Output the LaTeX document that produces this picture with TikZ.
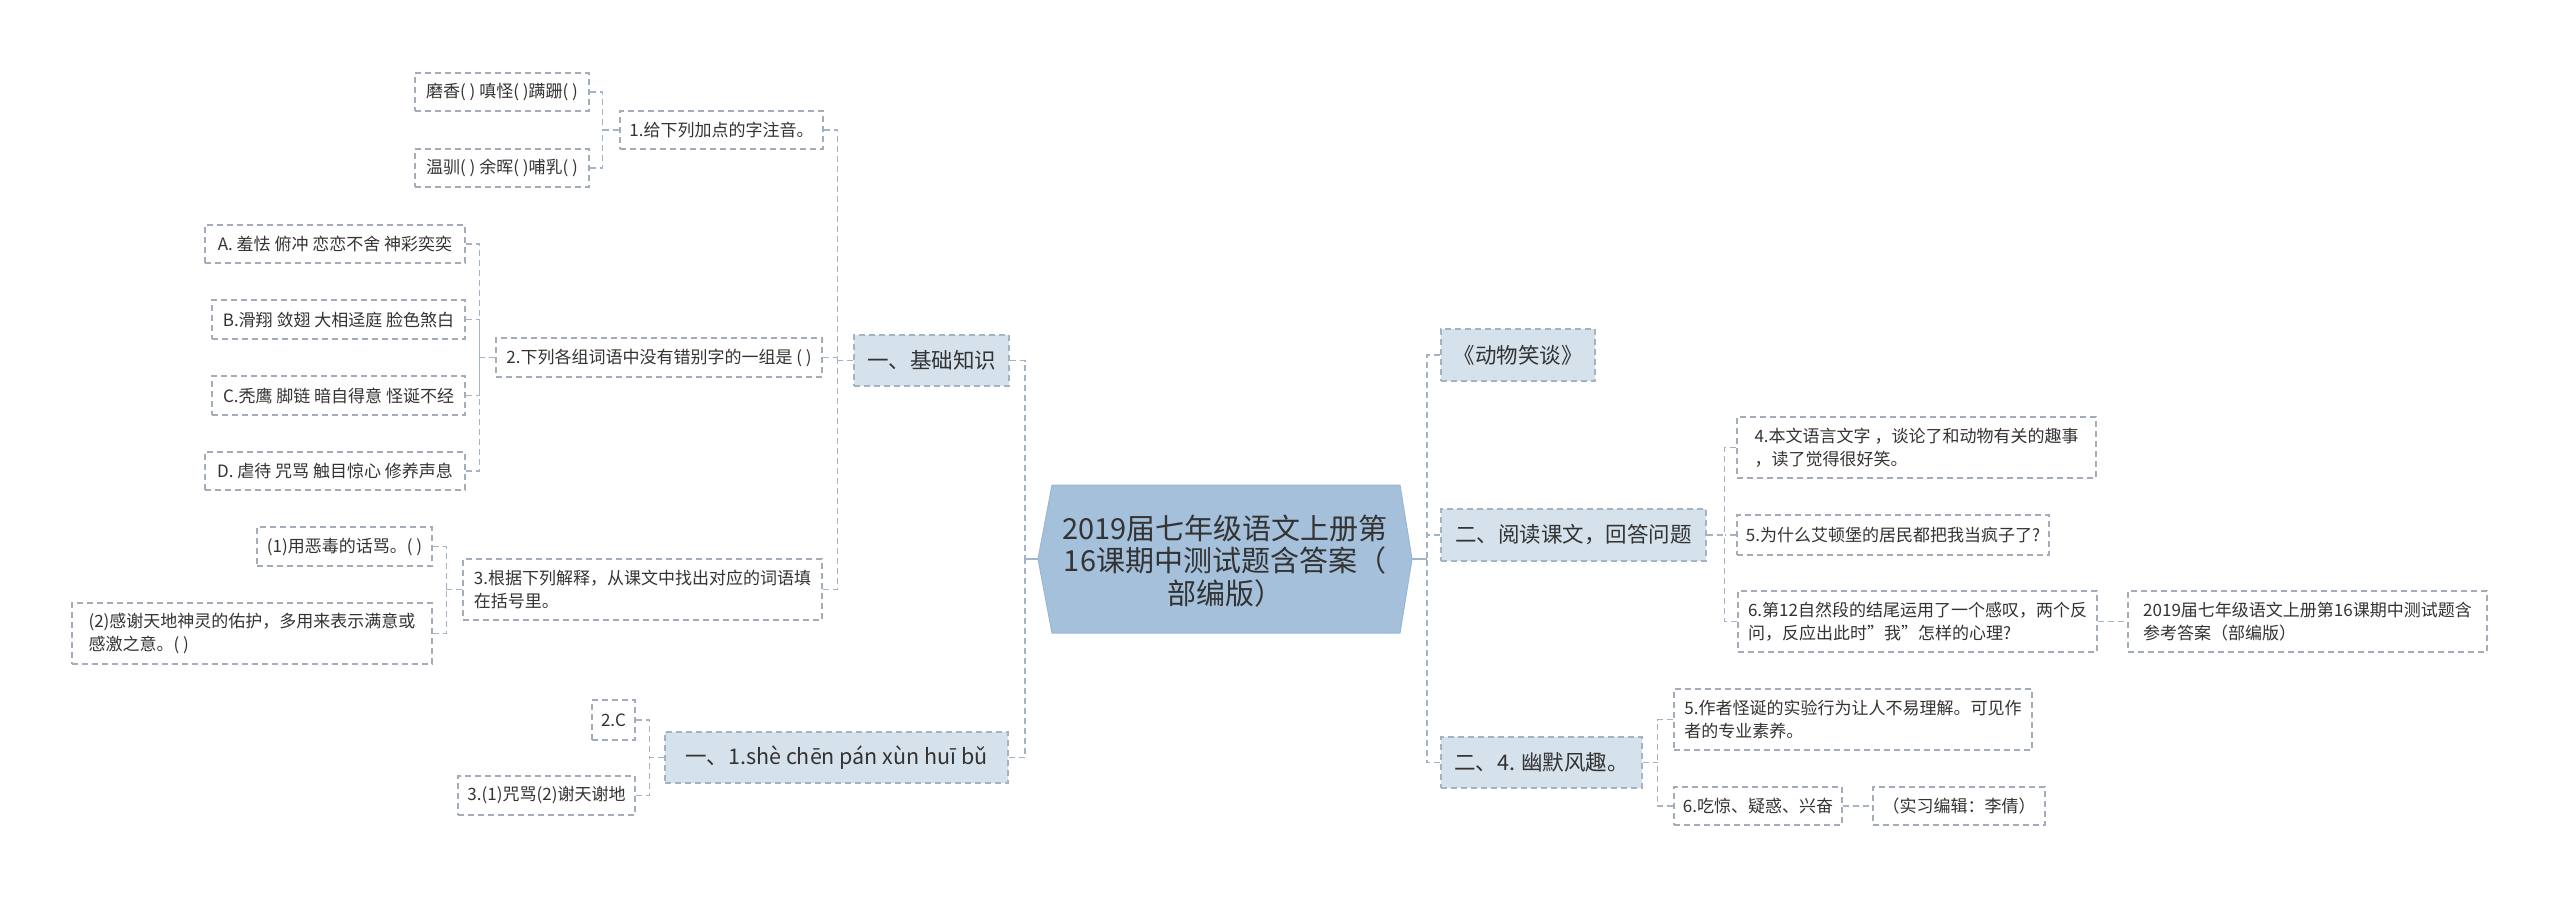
\documentclass[tikz,border=0pt]{standalone}
\usepackage{fontspec}
\setmainfont{Noto Sans CJK SC}
\definecolor{txt}{HTML}{333333}
\definecolor{leafborder}{HTML}{A2ADB9}
\definecolor{lvlborder}{HTML}{A3B3C4}
\definecolor{lvlfill}{HTML}{D5E1EB}
\definecolor{connc}{HTML}{A3B4C6}
\definecolor{hexfill}{HTML}{A4C0DA}
\definecolor{hexborder}{HTML}{9AB7D2}
\tikzset{
  leaf/.style={draw=leafborder, line width=1.2pt, dash pattern=on 6pt off 4pt, fill=white,
    inner sep=0pt, font=\fontsize{17}{23}\selectfont, text=txt, align=left},
  lvl/.style={draw=lvlborder, line width=1.3pt, dash pattern=on 6pt off 4pt, fill=lvlfill,
    inner sep=0pt, font=\fontsize{21.5}{26}\selectfont, text=txt, align=left},
  conn/.style={draw=connc, line width=1.5pt, dash pattern=on 6pt off 4pt},
  solidconn/.style={draw=connc, line width=1.5pt},
}
\begin{document}
\begin{tikzpicture}[x=1pt,y=-1pt]
\useasboundingbox (0,0) rectangle (2560,899);
\fill[white] (0,0) rectangle (2560,899);

% central hexagon
\coordinate (cL) at (1038,559);
\coordinate (cR) at (1412,559);
\fill[hexfill, draw=hexborder, line width=1pt] (cL) -- (1052,485) -- (1400,485) -- (cR) -- (1400,633) -- (1052,633) -- cycle;
\node[font=\fontsize{29}{32.5}\selectfont, text=txt, align=center] (center) at (1225,561)
  {2019届七年级语文上册第\\16课期中测试题含答案（\\部编版）};

% ---------------- left side ----------------
\node[lvl, minimum width=155pt, minimum height=51pt] (L1a) at (931.5,360.5) {一、基础知识};
\node[lvl, minimum width=343pt, minimum height=51pt] (L1b) at (836.5,757.5) {一、1.shè chēn pán xùn huī bǔ};

\node[leaf, minimum width=203pt, minimum height=38pt] (q1) at (721.5,130) {1.给下列加点的字注音。};
\node[leaf, minimum width=174pt, minimum height=38pt] (a1) at (502,92) {磨香( ) 嗔怪( )蹒跚( )};
\node[leaf, minimum width=174pt, minimum height=38pt] (a2) at (502,168) {温驯( ) 余晖( )哺乳( )};

\node[leaf, minimum width=326pt, minimum height=39pt] (q2) at (659,357.5) {2.下列各组词语中没有错别字的一组是 ( )};
\node[leaf, minimum width=260pt, minimum height=38pt] (oA) at (335,244) {A. 羞怯 俯冲 恋恋不舍 神彩奕奕};
\node[leaf, minimum width=253pt, minimum height=39pt] (oB) at (338.5,319.5) {B.滑翔 敛翅 大相迳庭 脸色煞白};
\node[leaf, minimum width=253pt, minimum height=39pt] (oC) at (338.5,395.5) {C.秃鹰 脚链 暗自得意 怪诞不经};
\node[leaf, minimum width=260pt, minimum height=38pt] (oD) at (335,471) {D. 虐待 咒骂 触目惊心 修养声息};

\node[leaf, minimum width=359pt, minimum height=61pt] (q3) at (642.5,589.5) {3.根据下列解释，从课文中找出对应的词语填\\在括号里。};
\node[leaf, minimum width=175pt, minimum height=39pt] (p1) at (344.5,546.5) {(1)用恶毒的话骂。( )};
\node[leaf, minimum width=360pt, minimum height=61pt] (p2) at (252,633.5) {(2)感谢天地神灵的佑护，多用来表示满意或\\感激之意。( )};

\node[leaf, minimum width=43pt, minimum height=40pt] (s2) at (613.5,720) {2.C};
\node[leaf, minimum width=177pt, minimum height=39pt] (s3) at (546.5,795.5) {3.(1)咒骂(2)谢天谢地};

% ---------------- right side ----------------
\node[lvl, minimum width=154pt, minimum height=52pt] (R1) at (1518,355) {《动物笑谈》};
\node[lvl, minimum width=265pt, minimum height=52pt] (R2) at (1573.5,535) {二、阅读课文，回答问题};
\node[lvl, minimum width=201pt, minimum height=51pt] (R3) at (1541.5,762.5) {二、4. 幽默风趣。};

\node[leaf, minimum width=359pt, minimum height=61pt] (r4) at (1916.5,447.5) {4.本文语言文字 ，谈论了和动物有关的趣事\\，读了觉得很好笑。};
\node[leaf, minimum width=312pt, minimum height=40pt] (r5) at (1893,535) {5.为什么艾顿堡的居民都把我当疯子了?};
\node[leaf, minimum width=359pt, minimum height=61pt] (r6) at (1917.5,621.5) {6.第12自然段的结尾运用了一个感叹，两个反\\问，反应出此时{\char34}我{\char34}怎样的心理?};
\node[leaf, minimum width=359pt, minimum height=61pt] (r7) at (2307.5,621.5) {2019届七年级语文上册第16课期中测试题含\\参考答案（部编版）};

\node[leaf, minimum width=358pt, minimum height=61pt] (r8) at (1853,719.5) {5.作者怪诞的实验行为让人不易理解。可见作\\者的专业素养。};
\node[leaf, minimum width=168pt, minimum height=38pt] (r9) at (1758,806) {6.吃惊、疑惑、兴奋};
\node[leaf, minimum width=172pt, minimum height=38pt] (r10) at (1959,806) {（实习编辑：李倩）};

% ---------------- connectors ----------------
% centre to level 1 (left)
\coordinate (tL) at (1025,559);
\draw[solidconn] (cL) -- (tL);
\draw[conn] (L1a.east) -| (tL);
\draw[conn] (L1b.east) -| (tL);
% centre to level 1 (right)
\coordinate (tR) at (1427,559);
\draw[solidconn] (cR) -- (tR);
\draw[conn] (R1.west) -| (tR);
\draw[conn] (R2.west) -| (tR);
\draw[conn] (R3.west) -| (tR);

% 一、基础知识
\coordinate (t1) at ([xshift=-16pt]L1a.west);
\draw[conn] (L1a.west) -- (t1);
\draw[conn] (q1.east) -| (t1);
\draw[conn] (q2.east) -| (t1);
\draw[conn] (q3.east) -| (t1);
% 1.
\coordinate (tq1) at ([xshift=-17pt]q1.west);
\draw[conn] (q1.west) -- (tq1);
\draw[conn] (a1.east) -| (tq1);
\draw[conn] (a2.east) -| (tq1);
% 2.
\coordinate (tq2) at ([xshift=-16pt]q2.west);
\draw[conn] (q2.west) -- (tq2);
\draw[conn] (oA.east) -| (tq2);
\draw[conn] (oB.east) -| (tq2);
\draw[conn] (oC.east) -| (tq2);
\draw[conn] (oD.east) -| (tq2);
% 3.
\coordinate (tq3) at ([xshift=-16pt]q3.west);
\draw[conn] (q3.west) -- (tq3);
\draw[conn] (p1.east) -| (tq3);
\draw[conn] (p2.east) -| (tq3);
% 一、1.she
\coordinate (tb) at ([xshift=-15pt]L1b.west);
\draw[conn] (L1b.west) -- (tb);
\draw[conn] (s2.east) -| (tb);
\draw[conn] (s3.east) -| (tb);

% 二、阅读
\coordinate (tr2) at ([xshift=18pt]R2.east);
\draw[conn] (R2.east) -- (tr2);
\draw[conn] (r4.west) -| (tr2);
\draw[conn] (r5.west) -| (tr2);
\draw[conn] (r6.west) -| (tr2);
\draw[conn] (r6.east) -- (r7.west);
% 二、4.
\coordinate (tr3) at ([xshift=15pt]R3.east);
\draw[conn] (R3.east) -- (tr3);
\draw[conn] (r8.west) -| (tr3);
\draw[conn] (r9.west) -| (tr3);
\draw[conn] (r9.east) -- (r10.west);
\end{tikzpicture}
\end{document}
